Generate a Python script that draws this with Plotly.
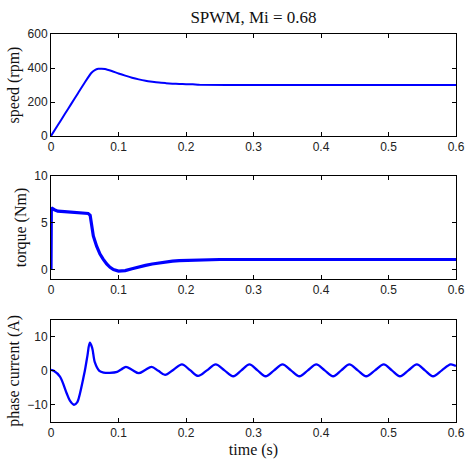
import plotly.graph_objects as go

# ---- data ----
speed_t = [0, 0.01, 0.02, 0.03, 0.04, 0.05, 0.06, 0.065, 0.07, 0.075, 0.08, 0.09,
           0.1, 0.11, 0.12, 0.13, 0.14, 0.15, 0.16, 0.17, 0.18, 0.19, 0.2, 0.21,
           0.22, 0.3, 0.4, 0.5, 0.6]
speed_v = [0, 63, 126, 189, 252, 315, 372, 388, 395, 396, 394, 382,
           368, 355, 343, 333, 325, 319, 314, 311, 308, 306, 305, 304,
           301, 300, 300, 300, 300]

torque_t = [0, 0.0005, 0.005, 0.01, 0.02, 0.03, 0.04, 0.05, 0.055, 0.058, 0.06,
            0.0627, 0.0676, 0.0726, 0.0775, 0.0825, 0.0875, 0.0925, 0.1, 0.11,
            0.12, 0.13, 0.14, 0.15, 0.16, 0.17, 0.18, 0.19, 0.2, 0.22, 0.25,
            0.3, 0.6]
torque_v = [0, 6.6, 6.4, 6.25, 6.2, 6.15, 6.1, 6.05, 6.0, 5.8, 5.0,
            3.6, 2.5, 1.66, 1.1, 0.6, 0.25, 0.0, -0.15, -0.1,
            0.1, 0.3, 0.45, 0.6, 0.72, 0.82, 0.9, 0.97, 1.0, 1.05, 1.08,
            1.08, 1.08]

cur_t = [0, 0.004, 0.0133, 0.0232, 0.028, 0.034, 0.039, 0.043, 0.047, 0.0504,
         0.054, 0.0575, 0.061, 0.065, 0.0716, 0.078, 0.087, 0.098, 0.104, 0.111,
         0.1205, 0.130, 0.1395, 0.149, 0.159, 0.169, 0.1815, 0.194, 0.206, 0.218,
         0.231, 0.244, 0.257, 0.270, 0.282, 0.294, 0.306, 0.318, 0.3305, 0.343,
         0.3555, 0.368, 0.3805, 0.393, 0.4055, 0.418, 0.430, 0.442, 0.4545, 0.467,
         0.480, 0.493, 0.505, 0.517, 0.5295, 0.542, 0.554, 0.566, 0.579, 0.592, 0.6]
cur_v = [0.3, 0, -1.7, -6.6, -8.8, -10, -9.2, -6.6, -3, 0.3,
         4.5, 8.3, 6.8, 2.5, 0, -0.5, -0.6, -0.3, 0.4, 1.2,
         0.25, -0.7, 0.25, 1.2, 0.0, -1.2, 0.35, 1.9, 0.2, -1.5,
         0.15, 1.9, 0.15, -1.6, 0.15, 1.9, 0.15, -1.6, 0.15, 1.9,
         0.15, -1.6, 0.15, 1.9, 0.15, -1.6, 0.15, 1.9, 0.15, -1.6,
         0.15, 1.9, 0.15, -1.6, 0.15, 1.9, 0.15, -1.6, 0.15, 1.9, 1.4]

x_ticks = [0, 0.1, 0.2, 0.3, 0.4, 0.5, 0.6]
speed_ticks = [0, 200, 400, 600]
torque_ticks = [0, 5, 10]
cur_ticks = [-10, 0, 10]

title_text = "SPWM, Mi = 0.68"
BLUE = "#0000FF"

fig = go.Figure()
fig.add_trace(go.Scatter(x=speed_t, y=speed_v, mode="lines",
                         line=dict(color=BLUE, width=2, shape="spline", smoothing=0.5),
                         xaxis="x", yaxis="y", showlegend=False))
fig.add_trace(go.Scatter(x=torque_t, y=torque_v, mode="lines",
                         line=dict(color=BLUE, width=3.2),
                         xaxis="x2", yaxis="y2", showlegend=False))
fig.add_trace(go.Scatter(x=cur_t, y=cur_v, mode="lines",
                         line=dict(color=BLUE, width=2.3, shape="spline", smoothing=0.9),
                         xaxis="x3", yaxis="y3", showlegend=False))

W, H = 465, 461
xdom = [51 / W, 456 / W]
def ydom(top, bot):
    return [1 - bot / H, 1 - top / H]

tickfont = dict(family="Liberation Sans, Arial", size=12, color="#222")
titlefont = dict(family="Liberation Serif, Times New Roman", size=16, color="#111")

def xax(anchor, show_title=False):
    d = dict(domain=xdom, anchor=anchor, range=[0, 0.6], tickvals=x_ticks,
             ticktext=["0", "0.1", "0.2", "0.3", "0.4", "0.5", "0.6"],
             ticks="inside", ticklen=4, tickcolor="black", mirror="ticks",
             showline=True, linecolor="black", linewidth=1, showgrid=False,
             zeroline=False, tickfont=tickfont, automargin=False)
    if show_title:
        d["title"] = dict(text="time (s)", font=titlefont, standoff=4)
    return d

def yax(anchor, dom, rng, tv, title):
    return dict(domain=dom, anchor=anchor, range=rng, tickvals=tv,
                ticks="inside", ticklen=4, tickcolor="black", mirror="ticks",
                showline=True, linecolor="black", linewidth=1, showgrid=False,
                zeroline=False, tickfont=tickfont, automargin=False,
                title=dict(text=title, font=titlefont, standoff=3))

fig.update_layout(
    width=W, height=H,
    margin=dict(l=0, r=0, t=0, b=0, autoexpand=False),
    paper_bgcolor="white", plot_bgcolor="white",
    xaxis=xax("y"),
    yaxis=yax("x", ydom(34, 136), [0, 600], speed_ticks, "speed (rpm)"),
    xaxis2=xax("y2"),
    yaxis2=yax("x2", ydom(176, 279), [-1, 10], torque_ticks, "torque (Nm)"),
    xaxis3=xax("y3", show_title=True),
    yaxis3=yax("x3", ydom(320, 421.7), [-15, 15], cur_ticks, "phase current (A)"),
    title=dict(text=title_text, x=253.5 / W, xanchor="center", y=1 - 17 / H,
               yanchor="middle",
               font=dict(family="Liberation Serif, Times New Roman", size=17, color="#111")),
)

fig.write_html("out.html")
